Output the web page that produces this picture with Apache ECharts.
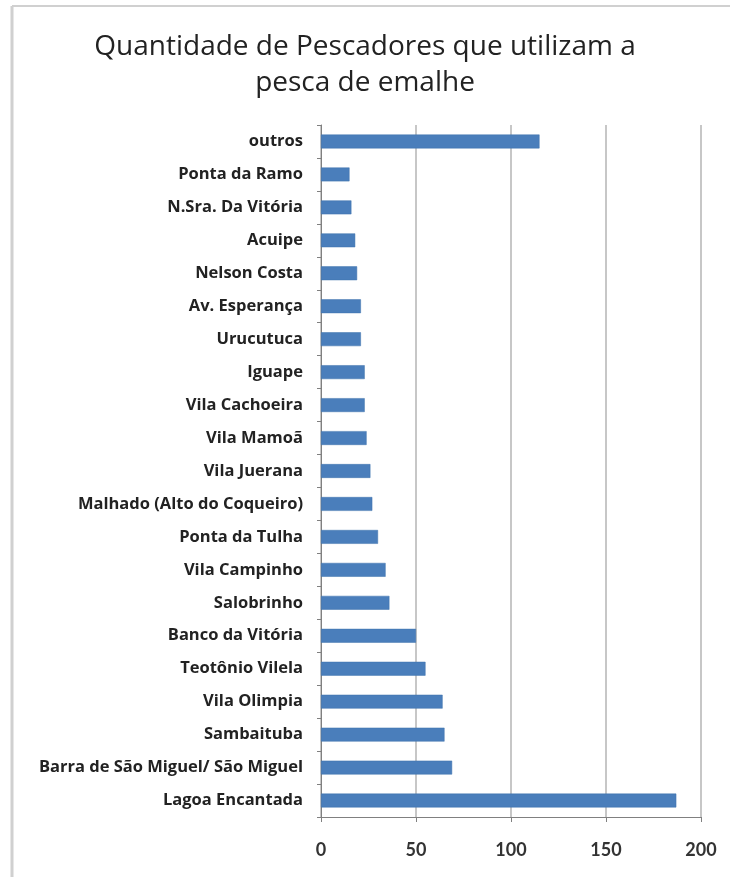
<!DOCTYPE html>
<html>
<head>
<meta charset="utf-8">
<script src="https://cdn.jsdelivr.net/npm/echarts@6/dist/echarts.min.js"></script>
<style>
  html, body { margin: 0; padding: 0; background: #ffffff; }
  #chart { width: 730px; height: 877px; }
</style>
</head>
<body>
<div id="chart"></div>
<script>
// Localities, listed from the bottom of the chart upward
const localidades = [
  'Lagoa Encantada',
  'Barra de São Miguel/ São Miguel',
  'Sambaituba',
  'Vila Olimpia',
  'Teotônio Vilela',
  'Banco da Vitória',
  'Salobrinho',
  'Vila Campinho',
  'Ponta da Tulha',
  'Malhado (Alto do Coqueiro)',
  'Vila Juerana',
  'Vila Mamoã',
  'Vila Cachoeira',
  'Iguape',
  'Urucutuca',
  'Av. Esperança',
  'Nelson Costa',
  'Acuipe',
  'N.Sra. Da Vitória',
  'Ponta da Ramo',
  'outros'
];

// Number of fishermen using gillnets in each locality
const pescadores = [187, 69, 65, 64, 55, 50, 36, 34, 30, 27, 26, 24, 23, 23, 21, 21, 19, 18, 16, 15, 115];

const eixoX = { min: 0, max: 200, interval: 50 };

const titulo = 'Quantidade de Pescadores que utilizam a\npesca de emalhe';

const chart = echarts.init(document.getElementById('chart'));

chart.setOption({
  backgroundColor: '#ffffff',
  animation: false,
  title: {
    text: titulo,
    left: 'center',
    top: 24,
    textStyle: {
      fontFamily: 'Open Sans',
      fontWeight: 'normal',
      fontSize: 28,
      lineHeight: 36,
      color: '#222222'
    }
  },
  graphic: [
    { type: 'line', shape: { x1: 12, y1: 6, x2: 730, y2: 6 }, style: { stroke: '#d0d0d0', lineWidth: 2 } },
    { type: 'line', shape: { x1: 12, y1: 6, x2: 12, y2: 877 }, style: { stroke: '#d0d0d0', lineWidth: 3 } }
  ],
  grid: { left: 321, right: 29, top: 125, bottom: 60, containLabel: false },
  xAxis: {
    type: 'value',
    min: eixoX.min,
    max: eixoX.max,
    interval: eixoX.interval,
    axisLine: { show: true, lineStyle: { color: '#808080', width: 1 } },
    axisTick: { show: true, length: 5, lineStyle: { color: '#808080' } },
    splitLine: { show: true, lineStyle: { color: '#b4b4b4', width: 1.5 } },
    axisLabel: {
      margin: 24,
      fontFamily: 'Lato',
      fontWeight: 'bold',
      fontSize: 18,
      color: '#333333'
    }
  },
  yAxis: {
    type: 'category',
    data: localidades,
    axisLine: { show: true, lineStyle: { color: '#808080', width: 1 } },
    axisTick: { show: true, length: 4, lineStyle: { color: '#808080' } },
    axisLabel: {
      margin: 18,
      fontFamily: 'Open Sans',
      fontWeight: 'bold',
      fontSize: 16.5,
      color: '#222222'
    }
  },
  series: [{
    type: 'bar',
    data: pescadores,
    barWidth: '42%',
    itemStyle: { color: '#4a7ebb', borderColor: '#3f72ad', borderWidth: 0.5 }
  }]
});
</script>
</body>
</html>
